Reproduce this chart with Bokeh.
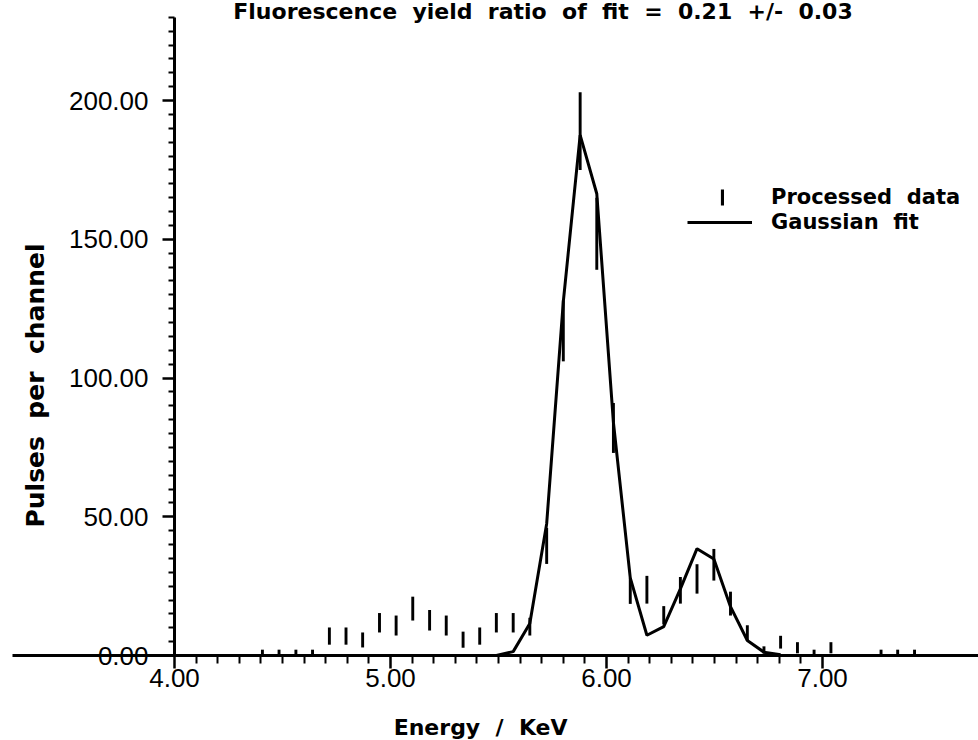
import math

from bokeh.core.properties import value
from bokeh.embed import file_html
from bokeh.models import (ColumnDataSource, FixedTicker, Legend, LegendItem,
                          LinearAxis, PrintfTickFormatter)
from bokeh.plotting import figure
from bokeh.resources import INLINE

# Channel energies (keV) of the processed spectrum
energy = [4.407, 4.484, 4.562, 4.639, 4.717, 4.794, 4.871, 4.949, 5.026, 5.103,
          5.181, 5.258, 5.336, 5.413, 5.490, 5.568, 5.645, 5.723, 5.800, 5.878,
          5.955, 6.032, 6.110, 6.187, 6.265, 6.342, 6.419, 6.497, 6.574, 6.652,
          6.729, 6.806, 6.884, 6.961, 7.039, 7.271, 7.348, 7.426]
# Pulses per channel and their statistical errors
counts = [1.2, 1.2, 1.2, 1.2, 7.0, 7.0, 5.6, 11.8, 10.8, 16.9,
          12.7, 10.8, 5.7, 7.0, 11.8, 11.8, 10.4, 39.5, 117.0, 189.0,
          152.0, 82.0, 23.3, 23.7, 14.5, 23.5, 27.6, 32.7, 18.7, 8.1,
          2.0, 4.8, 2.8, 1.2, 2.8, 1.2, 1.2, 1.2]
errors = [0.9, 0.9, 0.9, 0.9, 3.1, 3.1, 2.7, 3.5, 3.6, 4.3,
          3.7, 3.6, 2.9, 3.1, 3.5, 3.5, 3.2, 6.5, 11.0, 14.0,
          13.0, 9.0, 4.7, 5.0, 3.3, 4.8, 5.3, 5.7, 4.3, 2.8,
          1.3, 2.3, 2.0, 0.9, 2.0, 0.9, 0.9, 0.9]

# Double Gaussian fit (K-alpha and K-beta lines)
fit_energy = [5.490, 5.568, 5.645, 5.723, 5.800, 5.878, 5.955, 6.032, 6.110,
              6.187, 6.265, 6.342, 6.419, 6.497, 6.574, 6.652, 6.729, 6.806]
fit_counts = [0.0, 1.4, 11.5, 47.5, 127.5, 187.5, 166.4, 84.0, 28.0,
              7.3, 10.4, 24.0, 38.5, 34.8, 17.6, 5.4, 1.2, 0.3]

# Axis ticks
x_ticks = [4.0, 5.0, 6.0, 7.0]
x_minor = [4.1, 4.2, 4.3, 4.4, 4.5, 4.6, 4.7, 4.8, 4.9,
           5.1, 5.2, 5.3, 5.4, 5.5, 5.6, 5.7, 5.8, 5.9,
           6.1, 6.2, 6.3, 6.4, 6.5, 6.6, 6.7, 6.8, 6.9]
y_ticks = [0, 50, 100, 150, 200]
y_minor = [v for v in range(5, 235, 5) if v % 50]

# Wide word gaps (a no-break space keeps the second blank from collapsing)
GAP = " \u00a0"
title_text = GAP.join(["Fluorescence", "yield", "ratio", "of", "fit", "=",
                       "0.21", "+/-", "0.03"])
x_title = GAP.join(["Energy", "/", "KeV"])
y_title = GAP.join(["Pulses", "per", "channel"])

TEXT_FONT = "DejaVu Sans"
TICK_FONT = "Liberation Sans"

p = figure(width=978, height=740, x_range=(3.1944, 7.7222), y_range=(-30.63, 236.04),
           x_axis_type=None, y_axis_type=None, toolbar_location=None,
           output_backend="svg", min_border=0, outline_line_color=None,
           background_fill_color="white", border_fill_color="white")

# Axes crossing at (4.0, 0)
xaxis = LinearAxis(fixed_location=0, bounds=(3.25, 7.72),
                   ticker=FixedTicker(ticks=x_ticks, minor_ticks=x_minor),
                   formatter=PrintfTickFormatter(format="%.2f"))
yaxis = LinearAxis(fixed_location=4.0, bounds=(0, 230),
                   ticker=FixedTicker(ticks=y_ticks, minor_ticks=y_minor),
                   formatter=PrintfTickFormatter(format="%.2f"))
for ax in (xaxis, yaxis):
    ax.axis_line_width = 3
    ax.axis_line_color = "black"
    ax.major_tick_line_width = 2.5
    ax.minor_tick_line_width = 2
    ax.major_tick_in = 0
    ax.minor_tick_in = 0
    ax.major_label_text_font = TICK_FONT
    ax.major_label_text_font_size = "26px"
    ax.major_label_text_color = "black"
xaxis.major_tick_out = 13
xaxis.minor_tick_out = 8
xaxis.major_label_standoff = 0
yaxis.major_tick_out = 12
yaxis.minor_tick_out = 6
yaxis.major_label_standoff = 14
p.add_layout(xaxis, "below")
p.add_layout(yaxis, "left")

# Processed data as thin error bars (count +/- error)
src = ColumnDataSource(dict(
    x=energy,
    lo=[c - e for c, e in zip(counts, errors)],
    hi=[c + e for c, e in zip(counts, errors)],
))
bars = p.vbar(x="x", bottom="lo", top="hi", width=0.0135, source=src,
              fill_color="black", line_color=None)

# Gaussian fit
fit_r = p.line(fit_energy, fit_counts, line_color="black", line_width=3)

legend_style = dict(padding=0, margin=0, border_line_color=None,
                    background_fill_alpha=0, label_height=30,
                    label_text_font=TEXT_FONT, label_text_font_style="bold",
                    label_text_font_size="21px", label_text_color="black")
data_legend = Legend(items=[LegendItem(label="Processed  data", renderers=[bars])],
                     location=(720, 528), glyph_width=4, glyph_height=20,
                     label_standoff=47, **legend_style)
fit_legend = Legend(items=[LegendItem(label="Gaussian  fit", renderers=[fit_r])],
                    location=(687, 503), glyph_width=65, glyph_height=20,
                    label_standoff=19, **legend_style)
p.add_layout(data_legend)
p.add_layout(fit_legend)

# Title and axis titles
text_style = dict(text_font=value(TEXT_FONT), text_font_style="bold",
                  text_color="black", text_align="center", text_baseline="alphabetic")
p.text(x=[5.706], y=[232.1], text=[title_text], text_font_size="22px", **text_style)
p.text(x=[5.417], y=[-25.95], text=[x_title], text_font_size="22px", **text_style)
p.text(x=[3.3565], y=[97.3], text=[y_title], angle=math.pi / 2,
       text_font_size="25px", **text_style)

open("out.html", "w").write(file_html(p, INLINE))
